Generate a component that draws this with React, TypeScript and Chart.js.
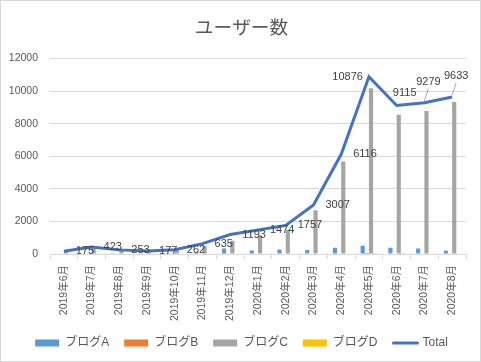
import React, { useEffect, useRef } from "react";
import { Chart, registerables } from "chart.js";

Chart.register(...registerables);

const months = [
  "2019年6月", "2019年7月", "2019年8月", "2019年9月", "2019年10月", "2019年11月", "2019年12月",
  "2020年1月", "2020年2月", "2020年3月", "2020年4月", "2020年5月", "2020年6月", "2020年7月", "2020年8月",
];
const blogA = [25, 33, 23, 17, 22, 100, 340, 220, 280, 250, 390, 510, 390, 330, 200];
const blogB = [0, 0, 0, 0, 0, 0, 0, 0, 0, 0, 0, 60, 0, 0, 0];
const blogC = [150, 390, 230, 160, 240, 500, 815, 1140, 1490, 2680, 5680, 10170, 8540, 8780, 9320];
const blogD = [0, 0, 0, 0, 0, 0, 0, 0, 0, 0, 0, 60, 60, 0, 0];
const totalUsers = [175, 423, 253, 177, 262, 635, 1193, 1474, 1757, 3007, 6116, 10876, 9115, 9279, 9633];
const seriesNames = ["ブログA", "ブログB", "ブログC", "ブログD", "Total"];
const yMax = 12000;
const yStep = 2000;
// where each Total value label sits relative to its point
const labelPlacement = [
  "right", "right", "right", "right", "right", "right", "right", "right",
  "right", "right", "right", "left", "above", "callout", "callout",
];

const FONT = "'Liberation Sans', 'Noto Sans CJK JP', sans-serif";
const CJK = "'Noto Sans CJK JP', sans-serif";
const TEXT = "#595959";
const GRID = "#d9d9d9";
const LINE = "#4472C4";

const framePlugin = {
  id: "frame",
  beforeDraw(chart: any) {
    const { ctx, width, height } = chart;
    ctx.save();
    ctx.fillStyle = "#ffffff";
    ctx.fillRect(0, 0, width, height);
    ctx.strokeStyle = GRID;
    ctx.lineWidth = 1;
    ctx.strokeRect(0.5, 0.5, width - 1, height - 1);
    ctx.restore();
  },
};

const valueLabelPlugin = {
  id: "valueLabels",
  afterDatasetsDraw(chart: any) {
    const meta = chart.getDatasetMeta(4);
    const ctx = chart.ctx;
    ctx.save();
    ctx.font = `11px ${FONT}`;
    ctx.fillStyle = "#404040";
    meta.data.forEach((pt: any, i: number) => {
      const txt = String(totalUsers[i]);
      const { x, y } = pt;
      const place = labelPlacement[i];
      if (place === "right") {
        ctx.textAlign = "left";
        ctx.textBaseline = "middle";
        ctx.fillText(txt, x + 12, y);
      } else if (place === "left") {
        ctx.textAlign = "right";
        ctx.textBaseline = "middle";
        ctx.fillText(txt, x - 6, y);
      } else if (place === "above") {
        ctx.textAlign = "center";
        ctx.textBaseline = "alphabetic";
        ctx.fillText(txt, x + 8, y - 9);
      } else {
        ctx.textAlign = "center";
        ctx.textBaseline = "alphabetic";
        ctx.fillText(txt, x + 4, y - 18);
        ctx.strokeStyle = "#a6a6a6";
        ctx.lineWidth = 1;
        ctx.beginPath();
        ctx.moveTo(x, y - 2);
        ctx.lineTo(x + 4, y - 14);
        ctx.stroke();
      }
    });
    ctx.restore();
  },
  afterDraw(chart: any) {
    const legend = chart.legend;
    if (!legend || !legend.legendItems) return;
    const idx = legend.legendItems.findIndex((it: any) => it.datasetIndex === 4);
    const box = legend.legendHitBoxes[idx];
    if (!box) return;
    const ctx = chart.ctx;
    ctx.save();
    ctx.strokeStyle = LINE;
    ctx.lineWidth = 3;
    ctx.lineCap = "round";
    const cy = box.top + box.height / 2;
    ctx.beginPath();
    ctx.moveTo(box.left + 1, cy);
    ctx.lineTo(box.left + 25, cy);
    ctx.stroke();
    ctx.restore();
  },
};

export default function App() {
  const ref = useRef<HTMLCanvasElement>(null);
  useEffect(() => {
    document.body.style.margin = "0";
    const barBase = { type: "bar" as const, categoryPercentage: 0.6, barPercentage: 1, order: 1 };
    const chart = new Chart(ref.current!, {
      type: "bar",
      data: {
        labels: months,
        datasets: [
          { ...barBase, label: seriesNames[0], data: blogA, backgroundColor: "#5B9BD5" },
          { ...barBase, label: seriesNames[1], data: blogB, backgroundColor: "#ED7D31" },
          { ...barBase, label: seriesNames[2], data: blogC, backgroundColor: "#A5A5A5" },
          { ...barBase, label: seriesNames[3], data: blogD, backgroundColor: "#FFC000" },
          {
            type: "line" as const,
            label: seriesNames[4],
            data: totalUsers,
            borderColor: LINE,
            backgroundColor: LINE,
            borderWidth: 3,
            pointRadius: 0,
            tension: 0,
            order: 0,
          } as any,
        ],
      },
      options: {
        responsive: false,
        animation: false,
        devicePixelRatio: 1,
        layout: { padding: { left: 8.8, right: 6.8, top: 0, bottom: 3 } },
        plugins: {
          title: {
            display: true,
            text: "ユーザー数",
            color: TEXT,
            font: { family: CJK, size: 18.7, weight: "normal" as any },
            padding: { top: 16, bottom: 20 },
          },
          legend: {
            position: "bottom",
            labels: {
              boxWidth: 24,
              boxHeight: 7,
              padding: 15,
              color: TEXT,
              font: { family: FONT, size: 12 },
              sort: (a: any, b: any) => a.datasetIndex - b.datasetIndex,
              generateLabels: (ch: any) => {
                const items = Chart.defaults.plugins.legend.labels.generateLabels(ch);
                return items.map((it: any) =>
                  it.datasetIndex === 4
                    ? { ...it, fillStyle: "rgba(0,0,0,0)", strokeStyle: "rgba(0,0,0,0)", lineWidth: 0 }
                    : { ...it, lineWidth: 0 }
                );
              },
            },
          },
          tooltip: { enabled: false },
        },
        scales: {
          x: {
            grid: { display: true, drawOnChartArea: false, tickLength: 5, color: GRID, offset: true },
            border: { display: true, color: GRID },
            ticks: {
              minRotation: 90,
              maxRotation: 90,
              autoSkip: false,
              padding: 6,
              color: TEXT,
              font: { family: FONT, size: 10.5 },
            },
            afterFit: (s: any) => {
              s.height = 68;
            },
          },
          y: {
            min: 0,
            max: yMax,
            grid: { color: GRID, drawTicks: false },
            border: { display: false },
            ticks: {
              stepSize: yStep,
              padding: 12,
              color: TEXT,
              font: { family: FONT, size: 10.5 },
              callback: (v: any) => String(v),
            },
            afterFit: (s: any) => {
              s.width = 41.2;
            },
          },
          yRightSpace: {
            position: "right",
            display: true,
            grid: { display: false },
            border: { display: false },
            ticks: { display: false },
            afterFit: (s: any) => {
              s.width = 8.2;
            },
          } as any,
        },
      },
      plugins: [framePlugin, valueLabelPlugin],
    });
    return () => chart.destroy();
  }, []);
  return <canvas ref={ref} width={481} height={362} style={{ display: "block" }} />;
}
